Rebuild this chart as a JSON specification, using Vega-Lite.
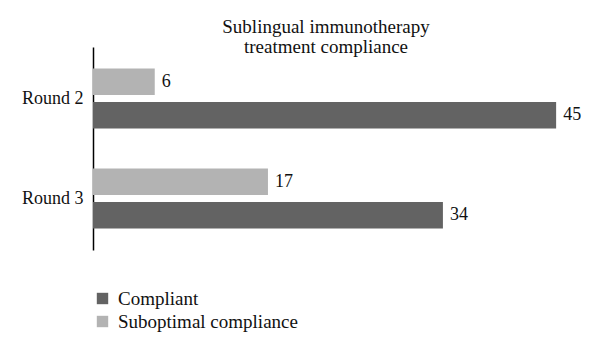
{
  "$schema": "https://vega.github.io/schema/vega-lite/v6.json",
  "autosize": {"type": "none"},
  "padding": {"left": 93, "top": 47, "right": 13, "bottom": 103},
  "width": 494,
  "height": 203,
  "background": "white",
  "config": {"view": {"stroke": null}, "font": "Liberation Serif"},
  "title": {
    "text": ["Sublingual immunotherapy", "treatment compliance"],
    "anchor": "middle",
    "dx": -14,
    "offset": -10,
    "fontSize": 19,
    "fontWeight": "normal",
    "font": "Liberation Serif",
    "color": "#111",
    "lineHeight": 20
  },
  "data": {
    "values": [
      {"round": "Round 2", "status": "Suboptimal compliance", "value": 6},
      {"round": "Round 2", "status": "Compliant", "value": 45},
      {"round": "Round 3", "status": "Suboptimal compliance", "value": 17},
      {"round": "Round 3", "status": "Compliant", "value": 34}
    ]
  },
  "encoding": {
    "y": {
      "field": "round", "type": "nominal", "title": null,
      "scale": {"paddingInner": 0.4, "paddingOuter": 0.215},
      "axis": {"ticks": false, "labelPadding": 10, "labelFontSize": 18, "labelColor": "#111", "domainColor": "#000", "domainWidth": 1.5, "labelFont": "Liberation Serif"}
    },
    "yOffset": {
      "field": "status", "type": "nominal",
      "sort": ["Suboptimal compliance", "Compliant"],
      "scale": {"paddingInner": 0.21, "paddingOuter": 0}
    },
    "x": {
      "field": "value", "type": "quantitative",
      "scale": {"domain": [0, 48], "nice": false},
      "axis": null
    }
  },
  "layer": [
    {
      "mark": {"type": "bar"},
      "encoding": {
        "color": {
          "field": "status", "type": "nominal",
          "scale": {"domain": ["Compliant", "Suboptimal compliance"], "range": ["#636363", "#b3b3b3"]},
          "legend": {
            "title": null, "orient": "none", "legendX": 0, "legendY": 242,
            "symbolType": "square", "symbolSize": 130, "symbolStrokeWidth": 0,
            "labelFontSize": 19, "labelColor": "#111", "labelFont": "Liberation Serif",
            "labelLimit": 400, "rowPadding": 3, "labelOffset": 6
          }
        }
      }
    },
    {
      "mark": {"type": "text", "align": "left", "baseline": "middle", "dx": 7, "fontSize": 18, "color": "#111", "font": "Liberation Serif"},
      "encoding": {"text": {"field": "value", "type": "quantitative"}}
    }
  ]
}
